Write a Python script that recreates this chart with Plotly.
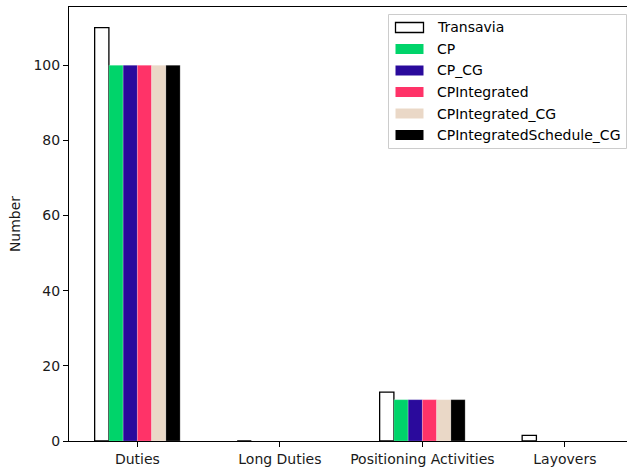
import plotly.graph_objects as go

categories = ["Duties", "Long Duties", "Positioning Activities", "Layovers"]
series_names = ["Transavia", "CP", "CP_CG", "CPIntegrated", "CPIntegrated_CG", "CPIntegratedSchedule_CG"]
transavia = [110, 0, 13, 1.5]
cp = [100, 0, 11, 0]
cp_cg = [100, 0, 11, 0]
cp_integrated = [100, 0, 11, 0]
cp_integrated_cg = [100, 0, 11, 0]
cp_integrated_schedule_cg = [100, 0, 11, 0]
series_values = [transavia, cp, cp_cg, cp_integrated, cp_integrated_cg, cp_integrated_schedule_cg]
colors = ["#ffffff", "#00d46a", "#2a0a9c", "#ff3368", "#ead8c7", "#000000"]
y_ticks = [0, 20, 40, 60, 80, 100]

W, H = 627, 470
L, R, T, B = 69, 0, 7, 29
PW, PH = W - L - R, H - T - B

fig = go.Figure()
for i, (name, vals, col) in enumerate(zip(series_names, series_values, colors)):
    is_outline = i == 0
    fig.add_trace(go.Bar(
        x=categories, y=vals, name=name,
        marker=dict(color=col,
                    line=dict(color="#000000" if is_outline else "rgba(255,255,255,0.35)",
                              width=1.3 if is_outline else 0.6)),
        showlegend=False,
    ))

FONT = "DejaVu Sans"

def px2paper(x, y):
    return (x - L) / PW, (H - B - y) / PH

shapes = []
annotations = []
# legend frame
x0, y0 = px2paper(388.5, 14.5)
x1, y1 = px2paper(626.5, 148.5)
shapes.append(dict(type="rect", xref="paper", yref="paper", x0=x0, y0=y0, x1=x1, y1=y1,
                   line=dict(color="#cccccc", width=1), fillcolor="rgba(255,255,255,0.8)", layer="above"))
row0 = 27.5
step = 21.5
for i, (name, col) in enumerate(zip(series_names, colors)):
    cy = row0 + i * step
    a0, b0 = px2paper(395.5, cy - 5)
    a1, b1 = px2paper(423.5, cy + 5)
    shapes.append(dict(type="rect", xref="paper", yref="paper", x0=a0, y0=b0, x1=a1, y1=b1,
                       line=dict(color="#000000" if i == 0 else col, width=1.3 if i == 0 else 0),
                       fillcolor=col, layer="above"))
    tx, ty = px2paper(435, cy)
    annotations.append(dict(xref="paper", yref="paper", x=tx, y=ty, text=name, showarrow=False,
                            xanchor="left", yanchor="middle",
                            font=dict(family=FONT, size=14, color="#000000")))

fig.update_layout(
    width=W, height=H,
    margin=dict(l=L, r=R, t=T, b=B, pad=0),
    paper_bgcolor="white", plot_bgcolor="white",
    barmode="group", bargap=0.4, bargroupgap=0,
    font=dict(family=FONT, size=13, color="#000000"),
    shapes=shapes, annotations=annotations,
    xaxis=dict(range=[-0.48, -0.48 + PW / 142.5], showgrid=False, zeroline=False,
               showline=True, linecolor="#000000", linewidth=1.1, mirror=True,
               ticks="outside", ticklen=5, tickwidth=1, tickcolor="#000000",
               tickfont=dict(family=FONT, size=14, color="#1a1a1a")),
    yaxis=dict(range=[0, 115.5], showgrid=False, zeroline=False,
               showline=True, linecolor="#000000", linewidth=1.1,
               tickvals=y_ticks, ticks="outside", ticklen=5, tickwidth=1, tickcolor="#000000",
               tickfont=dict(family=FONT, size=14, color="#1a1a1a"),
               title=dict(text="Number", font=dict(family=FONT, size=14, color="#1a1a1a"), standoff=9)),
)

fig.write_html("out.html")
